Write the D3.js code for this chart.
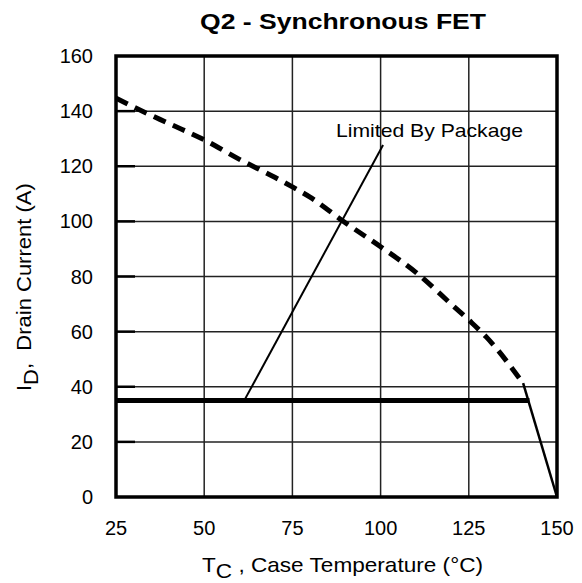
<!DOCTYPE html>
<html>
<head>
<meta charset="utf-8">
<script src="https://cdn.jsdelivr.net/npm/d3@7"></script>
<style>
  body { margin: 0; background: #fff; }
  svg { display: block; font-family: "Liberation Sans", Arial, Helvetica, sans-serif; }
</style>
</head>
<body>
<div id="chart"></div>
<script>
// rated drain current vs case temperature (dashed)
const tempC = [25, 30, 40, 50, 60, 70, 75, 80, 90, 100, 110, 120, 125, 130, 140.4];
const ratedCurrent = [144.7, 141.5, 135.5, 129.6, 122.5, 116, 112.5, 108.8, 99.5, 90.8, 81.5, 70, 64.2, 58, 41.3];
// package limit (thick)
const packageT = [25, 142.2];
const packageI = [35, 35];
// derating to zero at Tj max
const derateT = [140.4, 150];
const derateI = [41.3, 0];
// annotation leader
const noteT = [61.6, 100.7];
const noteI = [35.6, 127.7];
const noteText = "Limited By Package";

const xTicks = [25, 50, 75, 100, 125, 150];
const yTicks = [0, 20, 40, 60, 80, 100, 120, 140, 160];

const width = 582, height = 583;
const svg = d3.select("#chart").append("svg")
  .attr("width", width)
  .attr("height", height);

const x = d3.scaleLinear().domain([25, 150]).range([116, 557]);
const y = d3.scaleLinear().domain([0, 160]).range([497, 56]);

// grid
svg.append("g")
  .selectAll("line.v")
  .data(xTicks)
  .join("line")
  .attr("x1", d => x(d)).attr("x2", d => x(d))
  .attr("y1", y(0)).attr("y2", y(160))
  .attr("stroke", "#222").attr("stroke-width", 1.5);

svg.append("g")
  .selectAll("line.h")
  .data(yTicks)
  .join("line")
  .attr("x1", x(25)).attr("x2", x(150))
  .attr("y1", d => y(d)).attr("y2", d => y(d))
  .attr("stroke", "#222").attr("stroke-width", 1.5);

// short inner ticks on the left
svg.append("g")
  .selectAll("line")
  .data(yTicks.slice(1, -1))
  .join("line")
  .attr("x1", x(25)).attr("x2", x(25) + 19)
  .attr("y1", d => y(d)).attr("y2", d => y(d))
  .attr("stroke", "#000").attr("stroke-width", 2.5);

// frame
svg.append("rect")
  .attr("x", x(25)).attr("y", y(160))
  .attr("width", x(150) - x(25)).attr("height", y(0) - y(160))
  .attr("fill", "none").attr("stroke", "#000").attr("stroke-width", 3.5);

// tick labels
svg.append("g")
  .selectAll("text")
  .data(yTicks)
  .join("text")
  .attr("x", 93).attr("y", d => y(d) + 7)
  .attr("text-anchor", "end")
  .attr("font-size", 20)
  .text(d => d);

svg.append("g")
  .selectAll("text")
  .data(xTicks)
  .join("text")
  .attr("x", d => x(d)).attr("y", 535)
  .attr("text-anchor", "middle")
  .attr("font-size", 20)
  .text(d => d);

const line = d3.line()
  .x(d => x(d[0]))
  .y(d => y(d[1]));

// dashed rated current
svg.append("path")
  .datum(d3.zip(tempC, ratedCurrent))
  .attr("d", line.curve(d3.curveMonotoneX))
  .attr("fill", "none")
  .attr("stroke", "#000")
  .attr("stroke-width", 5)
  .attr("stroke-dasharray", "13,8");

const straight = d3.line().x(d => x(d[0])).y(d => y(d[1]));

// package limit
svg.append("path")
  .datum(d3.zip(packageT, packageI))
  .attr("d", straight)
  .attr("fill", "none")
  .attr("stroke", "#000")
  .attr("stroke-width", 5);

// derating line
svg.append("path")
  .datum(d3.zip(derateT, derateI))
  .attr("d", straight)
  .attr("fill", "none")
  .attr("stroke", "#000")
  .attr("stroke-width", 2.5);

// annotation
svg.append("path")
  .datum(d3.zip(noteT, noteI))
  .attr("d", straight)
  .attr("fill", "none")
  .attr("stroke", "#000")
  .attr("stroke-width", 2);

svg.append("text")
  .attr("x", 336).attr("y", 137)
  .attr("font-size", 19)
  .attr("textLength", 187)
  .attr("lengthAdjust", "spacingAndGlyphs")
  .text(noteText);

// title
svg.append("text")
  .attr("x", 200).attr("y", 29)
  .attr("font-size", 22)
  .attr("font-weight", "bold")
  .attr("textLength", 286)
  .attr("lengthAdjust", "spacingAndGlyphs")
  .text("Q2 - Synchronous FET");

// x label
const xl = svg.append("text")
  .attr("transform", "translate(202,572) scale(1.13,1)")
  .attr("font-size", 20);
xl.append("tspan").text("T");
xl.append("tspan").attr("dy", 6).text("C");
xl.append("tspan").attr("dy", -6).text(" , Case Temperature (°C)");

// y label
const yl = svg.append("text")
  .attr("transform", "translate(31,391) rotate(-90) scale(1.1,1)")
  .attr("font-size", 20);
yl.append("tspan").text("I");
yl.append("tspan").attr("dy", 7).text("D");
yl.append("tspan").attr("dy", -7).text(",\u00a0\u00a0Drain Current (A)");
</script>
</body>
</html>
